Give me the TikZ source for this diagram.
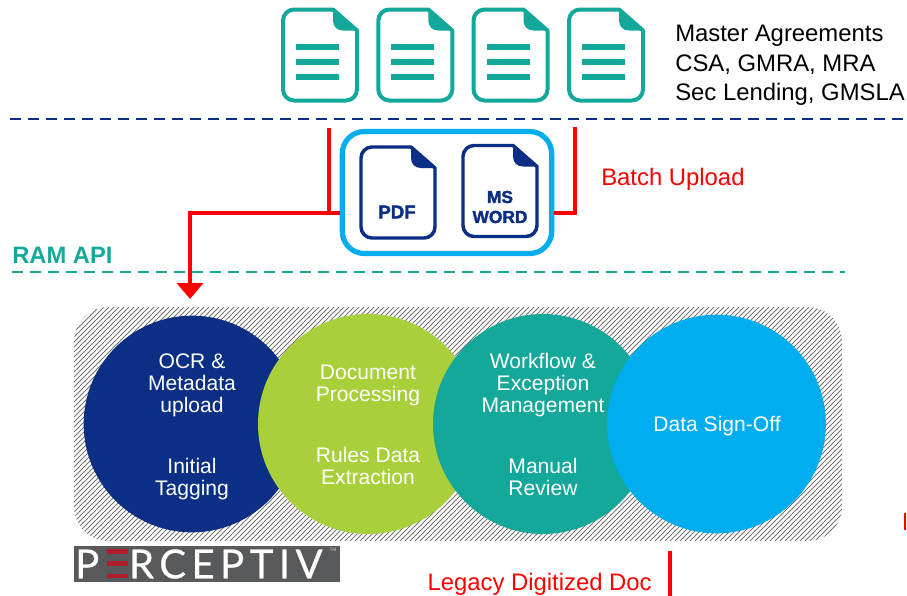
\documentclass[tikz,border=0pt]{standalone}
\usepackage{fontspec}
\setmainfont{Liberation Sans}
\newfontfamily\logofont[LetterSpace=13.75,FakeBold=0.6]{Lato}
\newfontfamily\heavyfont[BoldFeatures={FakeBold=2}]{Liberation Sans}
\usetikzlibrary{arrows.meta}
\definecolor{tealc}{HTML}{13A89A}
\definecolor{navyc}{HTML}{0B2F84}
\definecolor{greenc}{HTML}{A9D03A}
\definecolor{bluec}{HTML}{00AEEF}
\definecolor{redc}{HTML}{FF0000}
\definecolor{logogray}{HTML}{58595B}
\definecolor{logored}{HTML}{B01E2A}
\tikzset{
  x=0.75pt,y=-0.75pt,
  lbl/.style={font=\fontsize{17.9pt}{22pt}\selectfont,inner sep=0,anchor=west,yshift=-1.5pt},
  inlbl/.style={font=\fontsize{15.8pt}{16.5pt}\selectfont,text=white,inner sep=0,align=center,yshift=-1.5pt},
  redline/.style={draw=redc,line width=3pt},
  pics/docicon/.style n args={2}{code={
    \draw[#1,line width=#2,line join=round,fill=white]
      (50,0) -- (11,0) .. controls (5,0) and (0,5) .. (0,11) -- (0,80) .. controls (0,86) and (5,91) .. (11,91)
      -- (63,91) .. controls (69,91) and (74,86) .. (74,80) -- (74,21) -- cycle;
    \fill[#1] (50,0) -- (74,21) -- (60,21) .. controls (54,21) and (50,17) .. (50,11) -- cycle;
  }},
}
\begin{document}
\begin{tikzpicture}
\useasboundingbox (0,0) rectangle (907,596);
% upper documents
\foreach \i/\xx in {1/281,2/376.3,3/471.5,4/567}{
  \pic at (\xx+2,9.5) {docicon={tealc}{3pt}};
  \foreach \yy in {47,62,77}
    \fill[tealc] (\xx+15,\yy-2.8) rectangle (\xx+58,\yy+2.8);
}
\node[lbl] (t1) at (675,34) {Master Agreements};
\node[lbl] (t2) at (675,63) {CSA, GMRA, MRA};
\node[lbl] (t3) at (675,92) {Sec Lending, GMSLA};
% dividers
\coordinate (nl) at (10,119); \coordinate (nr) at (907,119);
\draw[navyc,line width=1.9pt,dash pattern=on 8.25pt off 5.25pt] (nl) -- (nr);
\coordinate (tl) at (12,272); \coordinate (tr) at (845,272);
\draw[tealc,line width=1.9pt,dash pattern=on 8.25pt off 5.25pt] (tl) -- (tr);
\node[lbl,text=tealc,font=\fontsize{17.8pt}{22pt}\selectfont\bfseries] (ram) at (12,253) {RAM API};
% upload box
\node[draw=bluec,line width=3.9pt,rounded corners=16.5pt,fill=white,minimum width=157pt,minimum height=91.5pt,inner sep=0] (box) at (447,192.5) {};
\pic at (361,147) {docicon={navyc}{2.6pt}};
\pic at (463,145.5) {docicon={navyc}{2.6pt}};
\node[font=\heavyfont\bfseries\fontsize{14pt}{15pt}\selectfont,text=navyc,inner sep=0,align=center] (pdf) at (397,212) {PDF};
\node[font=\heavyfont\bfseries\fontsize{13pt}{15pt}\selectfont,text=navyc,inner sep=0,align=center] (word) at (500,207) {MS\\WORD};
% red connectors
\coordinate (r1) at (329,128); \coordinate (rj) at (329,213);
\coordinate (r2) at (575,127); \coordinate (rc) at (575,213);
\coordinate (bend) at (190,213); \coordinate (tip) at (190,299);
\draw[redline] (r1) -- (rj);
\draw[redline] (r2) -- (rc) -- (box.east |- rc);
\draw[redline,-{Triangle[width=19.5pt,length=12pt,sep=0pt]}] (box.west |- rj) -- (bend) -- (tip);
\node[lbl,text=redc] (batch) at (601,177) {Batch Upload};
% hatched panel
\begin{scope}
\clip[rounded corners=26pt] (74,307) rectangle (842,541);
\foreach \k in {0,5,...,1010}
  \draw[black!55,line width=0.75pt] (74+\k-234,541) -- (74+\k,307);
\end{scope}
% circles
\node[circle,fill=navyc,minimum size=162.5pt,inner sep=0] (c1) at (192,424) {};
\node[circle,fill=greenc,minimum size=165pt,inner sep=0] (c2) at (368,424) {};
\node[circle,fill=tealc,minimum size=165pt,inner sep=0] (c3) at (543,424) {};
\node[circle,fill=bluec,minimum size=164pt,inner sep=0] (c4) at (716.5,424) {};
\node[inlbl] (a1) at (192,383) {OCR \&\\Metadata\\upload};
\node[inlbl] (a2) at (192,477) {Initial\\Tagging};
\node[inlbl] (b1) at (368,383) {Document\\Processing};
\node[inlbl] (b2) at (368,464) {Rules Data\\Extraction};
\node[inlbl] (d1) at (543,383) {Workflow \&\\Exception\\Management};
\node[inlbl] (d2) at (543,475) {Manual\\Review};
\node[inlbl] (e1) at (717,424) {Data Sign-Off};
% logo
\node[fill=logogray,minimum width=199.5pt,minimum height=27pt,inner sep=0] (logo) at (207,564) {};
\node[inner sep=0,anchor=west,text=white,font=\logofont\fontsize{30pt}{30pt}\selectfont] (logot) at (75,564) {P{\color{logogray}E}\kern5pt RCEPTIV};
\fill[logored] (107,549) rectangle (128,553.5);
\fill[logored] (107,561) rectangle (128,565.5);
\fill[logored] (107,574) rectangle (128,578);
\node[inner sep=0,text=white!80!black,font=\fontsize{3.6pt}{4pt}\selectfont] (tm) at (333,550) {TM};
% legacy
\node[lbl,text=redc,anchor=east] (legacy) at (652,582) {Legacy Digitized Doc};
\coordinate (b1t) at (669.5,551); \coordinate (b1b) at (669.5,596);
\draw[redline] (b1t) -- (b1b);
\coordinate (b2t) at (905.2,513); \coordinate (b2b) at (905.2,530);
\draw[draw=redc,line width=1.8pt] (b2t) -- (b2b);
\end{tikzpicture}
\end{document}
